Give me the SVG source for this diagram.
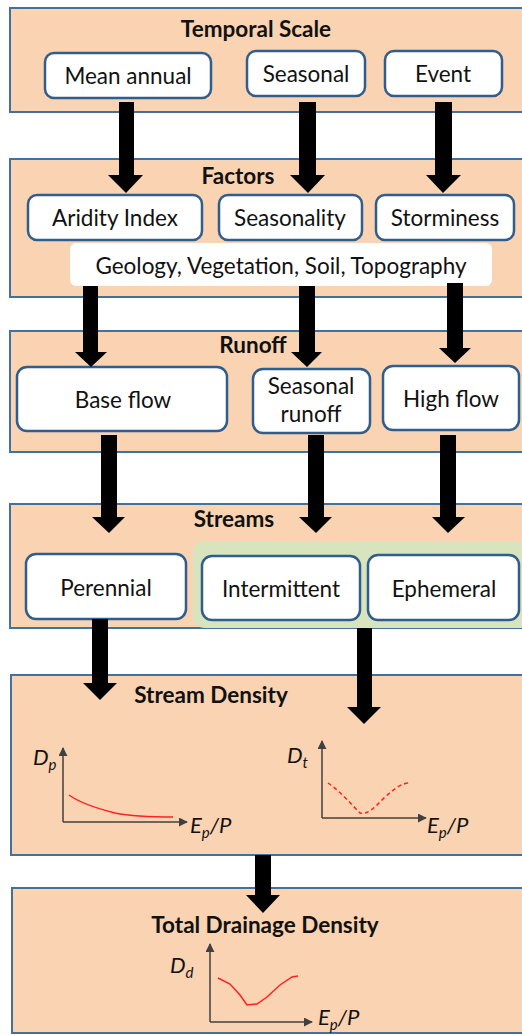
<svg xmlns="http://www.w3.org/2000/svg" width="522" height="1035" viewBox="0 0 522 1035">
<style>
.panel{fill:#FAD3B2;stroke:#41719C;stroke-width:2}
.box{fill:#fff;stroke:#2F5D8C;stroke-width:2.5}
.title{font-family:Lato,"Open Sans",sans-serif;font-weight:bold;font-size:22.5px;fill:#111;text-anchor:middle}
.lbl{font-family:Lato,"Open Sans",sans-serif;font-size:22.5px;fill:#111;text-anchor:middle}
.ax{stroke:#404040;stroke-width:1.5;fill:none}
.ital{font-family:Lato,"Open Sans",sans-serif;font-style:italic;font-size:22px;fill:#111}
.sub{font-size:15px}
.curve{stroke:#FF2020;stroke-width:1.5;fill:none}
.arrow{fill:#000}
</style>
<defs>
<marker id="ah" viewBox="0 0 10 10" refX="9" refY="5" markerWidth="6" markerHeight="6" orient="auto"><path d="M0,0 L10,5 L0,10 z" fill="#404040"/></marker>
</defs>
<rect width="522" height="1035" fill="#fff"/>

<g id="panel-temporal">
<rect class="panel" x="10" y="8" width="520" height="104"/>
<text class="title" x="256" y="37">Temporal Scale</text>
</g>
<g id="node-mean-annual"><rect class="box" x="45" y="53" width="166" height="45" rx="9"/><text class="lbl" x="128" y="84">Mean annual</text></g>
<g id="node-seasonal"><rect class="box" x="247" y="51" width="118" height="45" rx="9"/><text class="lbl" x="306" y="82">Seasonal</text></g>
<g id="node-event"><rect class="box" x="385" y="51" width="117" height="45" rx="9"/><text class="lbl" x="443" y="82">Event</text></g>

<g id="panel-factors">
<rect class="panel" x="10" y="159" width="520" height="138"/>
<text class="title" x="238" y="184">Factors</text>
</g>
<g id="node-aridity"><rect class="box" x="28" y="195" width="174" height="45" rx="9"/><text class="lbl" x="115" y="226">Aridity Index</text></g>
<g id="node-seasonality"><rect class="box" x="219" y="195" width="143" height="45" rx="9"/><text class="lbl" x="290" y="226">Seasonality</text></g>
<g id="node-storminess"><rect class="box" x="376" y="195" width="138" height="45" rx="9"/><text class="lbl" x="445" y="226">Storminess</text></g>
<g id="node-geology"><rect x="70" y="243" width="422" height="43" rx="6" fill="#fff"/><text class="lbl" x="281" y="274">Geology, Vegetation, Soil, Topography</text></g>

<g id="panel-runoff">
<rect class="panel" x="10" y="331" width="520" height="121"/>
<text class="title" x="253" y="353">Runoff</text>
</g>
<g id="node-baseflow"><rect class="box" x="17" y="367" width="210" height="64" rx="10"/><text class="lbl" x="123" y="408">Base flow</text></g>
<g id="node-seasonal-runoff"><rect class="box" x="253" y="369" width="117" height="64" rx="10"/><text class="lbl" x="311" y="394">Seasonal</text><text class="lbl" x="311" y="422">runoff</text></g>
<g id="node-highflow"><rect class="box" x="383" y="366" width="136" height="64" rx="10"/><text class="lbl" x="451" y="407">High flow</text></g>

<g id="panel-streams">
<rect class="panel" x="10" y="504" width="520" height="124"/>
<rect x="193" y="541" width="340" height="87" rx="12" fill="#D7E4BD"/>
<text class="title" x="234" y="527">Streams</text>
</g>
<g id="node-perennial"><rect class="box" x="26" y="554" width="160" height="65" rx="10"/><text class="lbl" x="106" y="596">Perennial</text></g>
<g id="node-intermittent"><rect class="box" x="202" y="556" width="158" height="64" rx="10"/><text class="lbl" x="281" y="597">Intermittent</text></g>
<g id="node-ephemeral"><rect class="box" x="368" y="555" width="151" height="65" rx="10"/><text class="lbl" x="444" y="597">Ephemeral</text></g>

<g id="panel-stream-density">
<rect class="panel" x="11" y="675" width="520" height="180"/>
<text class="title" x="211" y="703">Stream Density</text>
<path class="ax" d="M63,822 V748" marker-end="url(#ah)"/>
<path class="ax" d="M63,822 H187" marker-end="url(#ah)"/>
<text class="ital" x="33" y="765">D<tspan class="sub" dy="5">p</tspan></text>
<path class="curve" d="M69,795 C80,803 95,808 115,813 C135,817 155,817 173,817"/>
<text class="ital" x="190" y="833">E<tspan class="sub" dy="5">p</tspan><tspan dy="-5">/P</tspan></text>
<path class="ax" d="M322,818 V741" marker-end="url(#ah)"/>
<path class="ax" d="M322,818 H426" marker-end="url(#ah)"/>
<text class="ital" x="287" y="763">D<tspan class="sub" dy="5">t</tspan></text>
<path class="curve" stroke-dasharray="4,3" d="M328,783 C340,791 352,805 360,813 C368,815 375,807 385,797 C395,788 402,783 410,783"/>
<text class="ital" x="427" y="833">E<tspan class="sub" dy="5">p</tspan><tspan dy="-5">/P</tspan></text>
</g>

<g id="panel-total">
<rect class="panel" x="12" y="888" width="520" height="145"/>
<text class="title" x="265" y="933">Total Drainage Density</text>
<path class="ax" d="M210,1022 V944" marker-end="url(#ah)"/>
<path class="ax" d="M210,1022 H312" marker-end="url(#ah)"/>
<text class="ital" x="170" y="973">D<tspan class="sub" dy="5">d</tspan></text>
<path class="curve" d="M218,978 L230,984 L240,995 L247,1005 L257,1004 L267,997 L280,985 L292,977 L298,976"/>
<text class="ital" x="318" y="1025">E<tspan class="sub" dy="5">p</tspan><tspan dy="-5">/P</tspan></text>
</g>

<g id="connectors">
<path class="arrow" d="M119,102 H134 V175 H143 L126,193 L108,175 H119 Z"/>
<path class="arrow" d="M299,102 H316 V175 H325 L308,193 L290,175 H299 Z"/>
<path class="arrow" d="M435,102 H452 V175 H461 L443,193 L426,175 H435 Z"/>
<path class="arrow" d="M83,286 H98 V352 H107 L91,367 L75,352 H83 Z"/>
<path class="arrow" d="M299,286 H315 V352 H322 L307,367 L291,352 H299 Z"/>
<path class="arrow" d="M447,283 H463 V348 H471 L455,363 L439,348 H447 Z"/>
<path class="arrow" d="M101,435 H117 V517 H125 L109,533 L92,517 H101 Z"/>
<path class="arrow" d="M308,435 H324 V517 H332 L316,533 L299,517 H308 Z"/>
<path class="arrow" d="M440,435 H456 V517 H465 L448,533 L432,517 H440 Z"/>
<path class="arrow" d="M92,619 H108 V683 H117 L100,700 L83,683 H92 Z"/>
<path class="arrow" d="M357,628 H372 V707 H381 L364,724 L347,707 H357 Z"/>
<path class="arrow" d="M255,855 H271 V895 H280 L263,913 L246,895 H255 Z"/>
</g>
</svg>
